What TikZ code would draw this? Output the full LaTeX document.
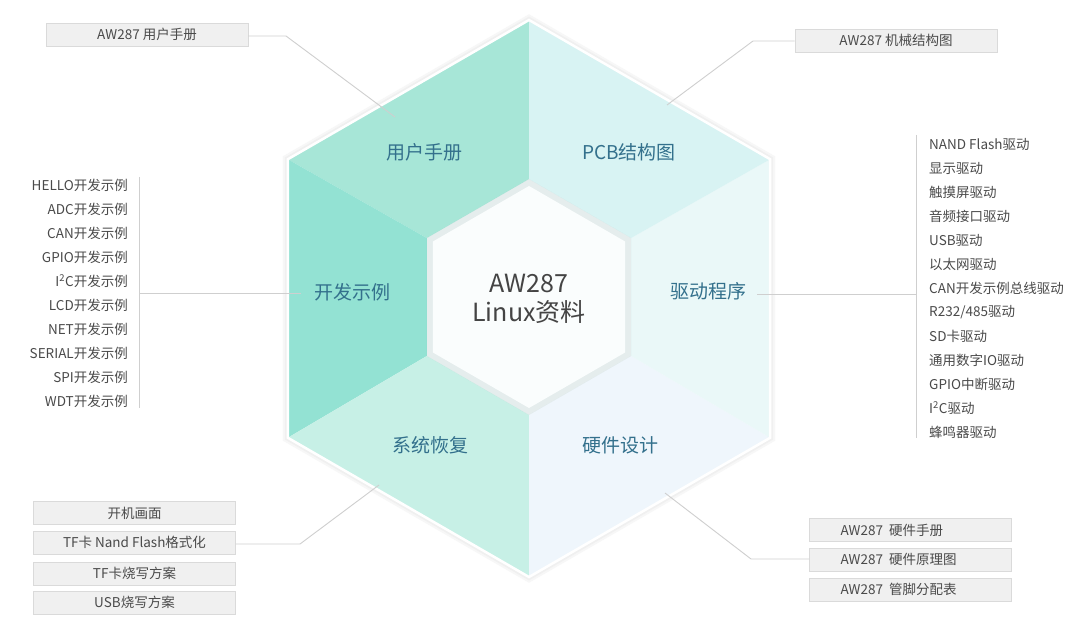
\documentclass[tikz,border=0pt]{standalone}
\usepackage{fontspec}
\setmainfont{Noto Sans CJK SC}
\definecolor{ucol}{HTML}{A7E6D7}
\definecolor{devc}{HTML}{93E2D3}
\definecolor{sysc}{HTML}{C7F0E6}
\definecolor{hwc}{HTML}{EFF6FC}
\definecolor{drvc}{HTML}{EAF8F8}
\definecolor{pcbc}{HTML}{D8F3F3}
\definecolor{bandc}{HTML}{2A6F6F}
\definecolor{innerc}{HTML}{FAFDFD}
\definecolor{labc}{HTML}{33708C}
\definecolor{itemc}{HTML}{4A4A4A}
\definecolor{boxf}{HTML}{F0F0F0}
\definecolor{boxd}{HTML}{DADADA}
\definecolor{linec}{HTML}{CFCFCF}
\definecolor{centc}{HTML}{444444}
\begin{document}
\begin{tikzpicture}[x=1bp,y=-1bp,
  lbl/.style={font=\fontsize{19bp}{22bp}\selectfont, text=labc, inner sep=0},
  item/.style={font=\fontsize{13.5bp}{15bp}\selectfont, text=itemc, inner sep=0},
  box/.style={draw=boxd, fill=boxf, line width=0.8bp, minimum width=202bp, minimum height=23bp, inner sep=0, font=\fontsize{13.5bp}{15bp}\selectfont, text=itemc},
  conn/.style={draw=linec, line width=0.9bp}]
\useasboundingbox (0,0) rectangle (1081,628);
\fill[white] (0,0) rectangle (1081,628);
% outer hexagon vertices
\coordinate (OT) at (529,20);
\coordinate (OUL) at (287.8,159.25);
\coordinate (OLL) at (287.8,437.75);
\coordinate (OB) at (529,577);
\coordinate (OLR) at (770.2,437.75);
\coordinate (OUR) at (770.2,159.25);
% inner band vertices
\coordinate (IT) at (529,179);
\coordinate (IUL) at (426.8,238);
\coordinate (ILL) at (426.8,356);
\coordinate (IB) at (529,415);
\coordinate (ILR) at (631.2,356);
\coordinate (IUR) at (631.2,238);
% shadow
\draw[line width=10bp, black!3, line join=miter] (OT)--(OUL)--(OLL)--(OB)--(OLR)--(OUR)--cycle;
\draw[line width=6bp, black!6, line join=miter] (OT)--(OUL)--(OLL)--(OB)--(OLR)--(OUR)--cycle;
% sectors
\fill[ucol] (OT)--(OUL)--(IUL)--(IT)--cycle;
\fill[devc] (OUL)--(OLL)--(ILL)--(IUL)--cycle;
\fill[sysc] (OLL)--(OB)--(IB)--(ILL)--cycle;
\fill[hwc] (OB)--(OLR)--(ILR)--(IB)--cycle;
\fill[drvc] (OLR)--(OUR)--(IUR)--(ILR)--cycle;
\fill[pcbc] (OUR)--(OT)--(IT)--(IUR)--cycle;
\draw[white, line width=2.5bp, line join=miter] (OT)--(OUL)--(OLL)--(OB)--(OLR)--(OUR)--cycle;
% inner band and white hexagon
\fill[bandc, opacity=0.12] (IT)--(IUL)--(ILL)--(IB)--(ILR)--(IUR)--cycle;
\fill[innerc] (529,186)--(432.9,241.5)--(432.9,352.5)--(529,408)--(625.1,352.5)--(625.1,241.5)--cycle;
% centre text
\node[align=center, font=\fontsize{25bp}{29bp}\selectfont, text=centc, inner sep=0] (center) at (529,299) {AW287\\Linux资料};
% sector labels
\node[lbl] (user) at (424,152) {用户手册};
\node[lbl] (pcb) at (629,152) {PCB结构图};
\node[lbl] (dev) at (352,292) {开发示例};
\node[lbl] (drv) at (708,291) {驱动程序};
\node[lbl] (sys) at (430,445) {系统恢复};
\node[lbl] (hw) at (620,445) {硬件设计};
% top boxes
\node[box] (ubox) at (147,34.5) {AW287 用户手册};
\node[box] (pbox) at (896,40.5) {AW287 机械结构图};
\coordinate (ubend) at (286,36);
\coordinate (uend) at (395,117);
\draw[conn] (ubox.east |- ubend) -- (ubend) -- (uend);
\coordinate (pbend) at (753,41);
\coordinate (pend) at (667,105);
\draw[conn] (pbox.west |- pbend) -- (pbend) -- (pend);
% left list
\foreach \t [count=\i from 0] in {HELLO开发示例,ADC开发示例,CAN开发示例,GPIO开发示例,I\textsuperscript{2}C开发示例,LCD开发示例,NET开发示例,SERIAL开发示例,SPI开发示例,WDT开发示例}
  \node[item, anchor=east] (d\i) at (128,185+24*\i) {\t};
\coordinate (dtop) at (139,177);
\coordinate (dbot) at (139,408);
\coordinate (dmid) at (139,293);
\coordinate (devend) at (301,293);
\draw[conn] (dtop) -- (dbot);
\draw[conn] (dmid) -- (devend);
% right list
\foreach \t [count=\i from 0] in {NAND Flash驱动,显示驱动,触摸屏驱动,音频接口驱动,USB驱动,以太网驱动,CAN开发示例总线驱动,R232/485驱动,SD卡驱动,通用数字IO驱动,GPIO中断驱动,I\textsuperscript{2}C驱动,蜂鸣器驱动}
  \node[item, anchor=west] (r\i) at (929,144+24*\i) {\t};
\coordinate (rtop) at (916,135);
\coordinate (rbot) at (916,438);
\coordinate (rmid) at (916,294);
\coordinate (drvend) at (757,294);
\draw[conn] (rtop) -- (rbot);
\draw[conn] (drvend) -- (rmid);
% bottom-left boxes
\node[box] (s1) at (134.5,513) {开机画面};
\node[box] (s2) at (134.5,542.5) {TF卡 Nand Flash格式化};
\node[box] (s3) at (134.5,573.5) {TF卡烧写方案};
\node[box] (s4) at (134.5,602.5) {USB烧写方案};
\coordinate (sbend) at (300,544);
\coordinate (send) at (379,485);
\draw[conn] (s2.east |- sbend) -- (sbend) -- (send);
% bottom-right boxes
\node[box] (h1) at (910.5,530) {\makebox[202bp][l]{\hspace{31bp}AW287\ \ 硬件手册}};
\node[box] (h2) at (910.5,559.5) {\makebox[202bp][l]{\hspace{31bp}AW287\ \ 硬件原理图}};
\node[box] (h3) at (910.5,589.5) {\makebox[202bp][l]{\hspace{31bp}AW287\ \ 管脚分配表}};
\coordinate (hbend) at (751,559);
\coordinate (hend) at (665,493);
\draw[conn] (h2.west |- hbend) -- (hbend) -- (hend);
\end{tikzpicture}
\end{document}
